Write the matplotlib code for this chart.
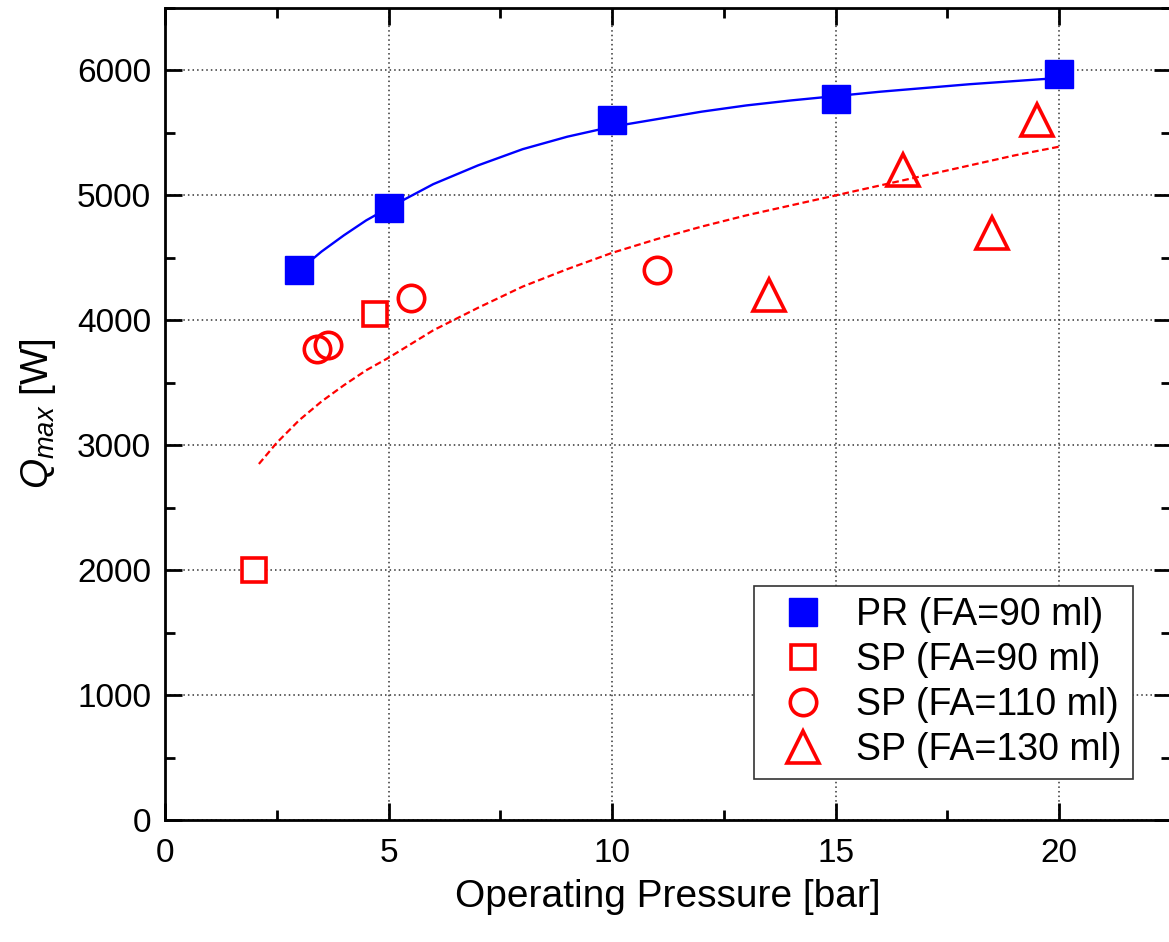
import numpy as np
import matplotlib
matplotlib.use("Agg")
import matplotlib.pyplot as plt
from matplotlib.ticker import MultipleLocator

plt.rcParams['font.family'] = ['Liberation Sans', 'DejaVu Sans']
plt.rcParams['mathtext.fontset'] = 'custom'
plt.rcParams['mathtext.rm'] = 'Liberation Sans'
plt.rcParams['mathtext.it'] = 'Liberation Sans:italic'

# --- measured points ---
pr_x = [3, 5, 10, 15, 20]
pr_y = [4400, 4900, 5600, 5770, 5970]

sp90_x = [2, 4.7]
sp90_y = [2000, 4050]

sp110_x = [3.4, 3.65, 5.5, 11]
sp110_y = [3770, 3800, 4180, 4400]

sp130_x = [13.5, 16.5, 18.5, 19.5]
sp130_y = [4200, 5200, 4700, 5600]

# --- fitted curves ---
pr_fit_x = [3, 3.5, 4, 4.5, 5, 6, 7, 8, 9, 10, 11, 12, 13, 14, 15, 16, 17, 18, 19, 20]
pr_fit_y = [4400, 4550, 4680, 4800, 4900, 5090, 5240, 5370, 5470, 5550, 5610, 5670, 5720, 5760, 5795, 5830, 5860, 5890, 5915, 5940]

sp_fit_x = [2.1, 2.5, 3, 3.5, 4, 4.5, 5, 6, 7, 8, 9, 10, 11, 12, 13, 14, 15, 16, 17, 18, 19, 20]
sp_fit_y = [2850, 3020, 3200, 3350, 3480, 3600, 3700, 3920, 4100, 4270, 4410, 4540, 4650, 4750, 4840, 4920, 5000, 5080, 5160, 5240, 5320, 5390]

fig = plt.figure(figsize=(11.69, 9.42), dpi=100)
ax = fig.add_axes([165 / 1169, 122 / 942, 1006 / 1169, 812 / 942])

ax.plot(pr_fit_x, pr_fit_y, color='blue', lw=1.7, zorder=3)
ax.plot(sp_fit_x, sp_fit_y, color='red', lw=1.6, dashes=(3, 1.6), zorder=3)

ax.plot(pr_x, pr_y, 's', ms=20, color='blue', mec='blue', label='PR (FA=90 ml)', zorder=4)
ax.plot(sp90_x, sp90_y, 's', ms=17, mfc='white', mec='red', mew=2.6, label='SP (FA=90 ml)', zorder=4)
ax.plot(sp110_x, sp110_y, 'o', ms=19, mfc='none', mec='red', mew=2.6, label='SP (FA=110 ml)', zorder=4)
ax.plot(sp130_x, sp130_y, '^', ms=23, mfc='none', mec='red', mew=2.6, label='SP (FA=130 ml)', zorder=4)

ax.set_xlim(0, 22.5)
ax.set_ylim(0, 6500)
ax.xaxis.set_major_locator(MultipleLocator(5))
ax.xaxis.set_minor_locator(MultipleLocator(2.5))
ax.yaxis.set_major_locator(MultipleLocator(1000))
ax.yaxis.set_minor_locator(MultipleLocator(500))

ax.tick_params(which='both', direction='in', top=True, right=True, width=2, labelsize=24)
ax.tick_params(axis='x', pad=13)
ax.tick_params(axis='y', pad=10)
ax.tick_params(which='major', length=12)
ax.tick_params(which='minor', length=7)
for s in ax.spines.values():
    s.set_linewidth(2)

ax.grid(True, which='major', color='#333333', linestyle=(0, (1, 2)), lw=1.1)
ax.set_axisbelow(True)

ax.set_xlabel('Operating Pressure [bar]', fontsize=28, labelpad=7)
ax.set_ylabel(r'$Q_{max}$ [W]', fontsize=28, labelpad=14)

leg = ax.legend(loc='lower right', bbox_to_anchor=(968 / 1006, 41 / 812), fontsize=27,
                frameon=True, fancybox=False, edgecolor='#333333', framealpha=1,
                borderaxespad=0, handletextpad=0.43, borderpad=0.3, labelspacing=0.24,
                handlelength=2.0)
leg.get_frame().set_linewidth(1.2)

fig.savefig('out.png', dpi=100)
